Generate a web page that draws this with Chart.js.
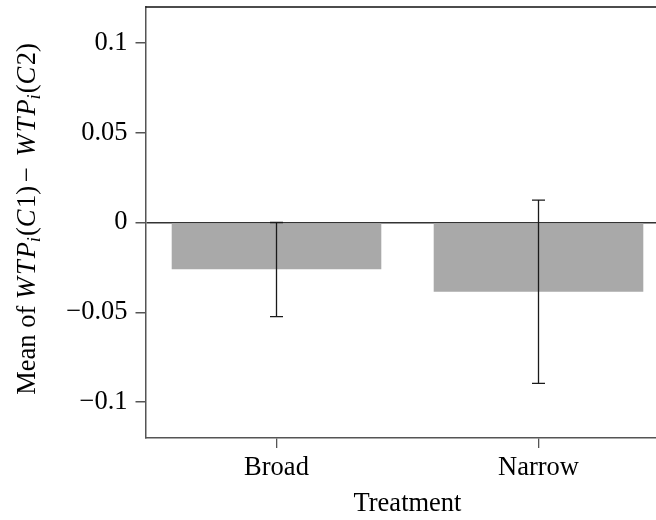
<!DOCTYPE html>
<html>
<head>
<meta charset="utf-8">
<script src="https://cdn.jsdelivr.net/npm/chart.js@4/dist/chart.umd.min.js"></script>
<style>
    html, body { margin: 0; padding: 0; background: #fff; overflow: hidden; }
    #wrap { width: 671px; height: 520px; }
</style>
</head>
<body>
<div id="wrap"><canvas id="chart" width="671" height="520"></canvas></div>
<script>
const categories = ['Broad', 'Narrow'];
const meanValues = [-0.026, -0.0385];
const errLow = [-0.0524, -0.0896];
const errHigh = [0, 0.0125];
const yTickValues = [-0.1, -0.05, 0, 0.05, 0.1];

const serif = '"Liberation Serif", "DejaVu Serif", serif';
const fontSize = 26.5;

const fmtTick = (v) => {
    if (Math.abs(v) < 1e-9) return '0';
    const s = String(Math.round(Math.abs(v) * 1000) / 1000);
    return v < 0 ? '\u2212' + s : s;
};

// error bars from the lo/hi arrays
const errorBars = {
    id: 'errorBars',
    afterDatasetsDraw(chart) {
        const { ctx, scales: { x, y } } = chart;
        ctx.save();
        ctx.strokeStyle = '#1a1a1a';
        ctx.lineWidth = 1.3;
        categories.forEach((c, i) => {
            const px = x.getPixelForValue(i);
            const top = y.getPixelForValue(errHigh[i]);
            const bot = y.getPixelForValue(errLow[i]);
            ctx.beginPath();
            ctx.moveTo(px, top);
            ctx.lineTo(px, bot);
            ctx.moveTo(px - 6.5, top);
            ctx.lineTo(px + 6.5, top);
            ctx.moveTo(px - 6.5, bot);
            ctx.lineTo(px + 6.5, bot);
            ctx.stroke();
        });
        ctx.restore();
    },
};

// top border of the box + y title with italic WTP and subscripts
const frameAndTitle = {
    id: 'frameAndTitle',
    afterDraw(chart) {
        const { ctx, chartArea } = chart;
        ctx.save();
        ctx.strokeStyle = '#111';
        ctx.lineWidth = 1.5;
        ctx.beginPath();
        ctx.moveTo(chartArea.left, chartArea.top);
        ctx.lineTo(chartArea.right + 2, chartArea.top);
        ctx.stroke();

        // math-style pieces: italic letters get a little extra room like TeX
        const parts = [
            { t: 'Mean of ' },
            { t: 'W', it: true, gap: 2 },
            { t: 'T', it: true, gap: 2 },
            { t: 'P', it: true, gap: 0 },
            { t: 'i', it: true, sub: true, gap: 1 },
            { t: '(' },
            { t: 'C', it: true, gap: 1.5 },
            { t: '1)', gap: 4 },
            { t: '\u2212', gap: 4 },
            { t: ' ' },
            { t: 'W', it: true, gap: 2 },
            { t: 'T', it: true, gap: 2 },
            { t: 'P', it: true, gap: 0 },
            { t: 'i', it: true, sub: true, gap: 1 },
            { t: '(' },
            { t: 'C', it: true, gap: 1.5 },
            { t: '2)' },
        ];
        const fontFor = (p) => `${p.it ? 'italic ' : ''}${p.sub ? 18.5 : fontSize}px ${serif}`;
        let total = 0;
        parts.forEach((p) => {
            ctx.font = fontFor(p);
            p.w = ctx.measureText(p.t).width + (p.gap || 0);
            total += p.w;
        });
        ctx.translate(35, 219);
        ctx.rotate(-Math.PI / 2);
        ctx.fillStyle = '#000';
        ctx.textBaseline = 'alphabetic';
        let cx = -total / 2;
        parts.forEach((p) => {
            ctx.font = fontFor(p);
            ctx.fillText(p.t, cx, p.sub ? 5 : 0);
            cx += p.w;
        });
        ctx.restore();
    },
};

new Chart(document.getElementById('chart'), {
    type: 'bar',
    data: {
        labels: categories,
        datasets: [{
            data: meanValues,
            backgroundColor: '#a9a9a9',
            borderWidth: 0,
            barPercentage: 0.8,
            categoryPercentage: 1,
        }],
    },
    options: {
        responsive: false,
        animation: false,
        layout: { padding: { top: 7, right: 1.5, bottom: 0.5, left: 0 } },
        plugins: { legend: { display: false }, tooltip: { enabled: false } },
        scales: {
            x: {
                afterFit: (s) => {
                    s.height = 81.5;
                    s.paddingLeft = 0;
                    s.paddingRight = 0;
                },
                border: { display: true, color: '#555', width: 1.5 },
                grid: { offset: false, drawOnChartArea: false, drawTicks: true, tickLength: 10, tickColor: '#555', lineWidth: 1.3 },
                ticks: { color: '#000', padding: 4, font: { family: serif, size: fontSize } },
                title: { display: true, text: 'Treatment', color: '#000', padding: 0, font: { family: serif, size: fontSize } },
            },
            y: {
                min: -0.12,
                max: 0.12,
                afterFit: (s) => {
                    s.width = 145.5;
                    s.paddingTop = 0;
                    s.paddingBottom = 0;
                },
                afterBuildTicks: (s) => { s.ticks = yTickValues.map((v) => ({ value: v })); },
                border: { display: true, color: '#555', width: 1.5 },
                grid: {
                    drawOnChartArea: true,
                    drawTicks: true,
                    tickLength: 10,
                    tickColor: '#555',
                    lineWidth: 1.5,
                    color: (c) => (c.tick && Math.abs(c.tick.value) < 1e-9 ? '#333' : 'rgba(0,0,0,0)'),
                },
                ticks: {
                    color: '#000',
                    padding: 8,
                    font: { family: serif, size: fontSize },
                    callback: (v) => fmtTick(v),
                },
            },
        },
    },
    plugins: [errorBars, frameAndTitle],
});
</script>
</body>
</html>
